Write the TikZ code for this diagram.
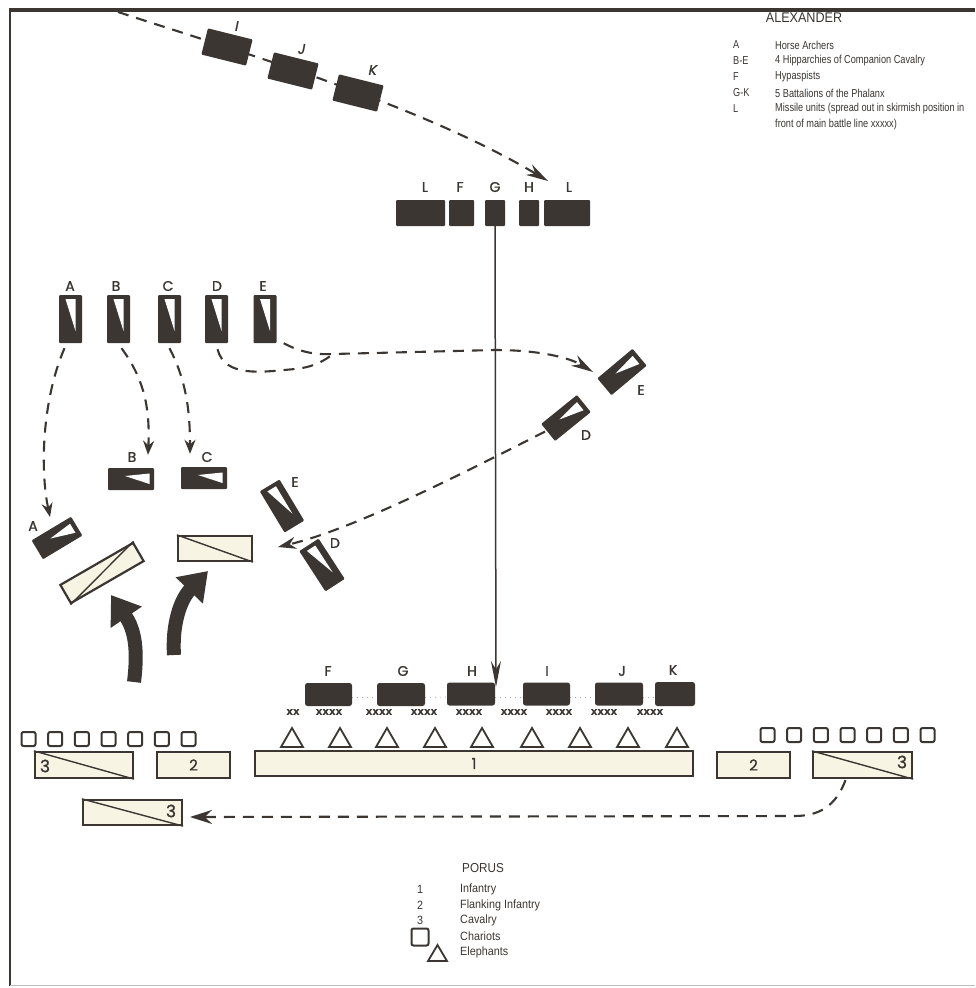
\documentclass[tikz,border=0pt]{standalone}
\usepackage{fontspec}
\setmainfont{Liberation Sans}
\newfontfamily\legfont[FakeStretch=0.8]{Liberation Sans}
\newfontfamily\legfonth[FakeStretch=0.9]{Liberation Sans}
\newfontfamily\legfontb[FakeStretch=0.9]{Liberation Sans}
\newfontfamily\geo[FakeBold=1.2]{Poppins}
\newfontfamily\geosl[FakeSlant=0.2,FakeBold=1.2]{Poppins}
\newfontfamily\monob[FakeBold=1]{Liberation Mono}
\usetikzlibrary{arrows.meta,calc}
\definecolor{dkc}{HTML}{3B3632}
\definecolor{ltc}{HTML}{F8F4E4}
\tikzset{
 blk/.style={rectangle, fill=dkc, inner sep=0pt, rounded corners=1pt},
 cvv/.style={blk, minimum width=23pt, minimum height=48pt},
 cvh/.style={blk, minimum width=46pt, minimum height=22pt},
 lr/.style={rectangle, draw=dkc, line width=2.2pt, fill=ltc, inner sep=0pt},
 lab/.style={font=\geo\fontsize{14}{14}\selectfont, text=dkc, inner sep=0pt},
 labsl/.style={font=\geosl\fontsize{14}{14}\selectfont, text=dkc, inner sep=0pt},
 lg/.style={font=\legfont\fontsize{11.5}{13}\selectfont, text=dkc, inner sep=0pt, anchor=west},
 lgp/.style={font=\legfontb\fontsize{12}{14}\selectfont, text=dkc, inner sep=0pt, anchor=west},
 dsh/.style={draw=dkc, line width=2.1pt, dash pattern=on 11pt off 8pt},
 xm/.style={font=\monob\bfseries\fontsize{11}{11}\selectfont, text=dkc, inner sep=0pt},
 ch/.style={rectangle, draw=dkc, line width=2pt, rounded corners=2pt, minimum width=14pt, minimum height=14pt, inner sep=0pt, fill=white},
 num/.style={font=\geo\fontsize{15}{15}\selectfont, text=dkc, inner sep=0pt},
 num3/.style={font=\geo\fontsize{17}{17}\selectfont, text=dkc, inner sep=0pt},
 thick arrow/.style={draw=dkc, line width=14pt, -{Triangle[length=27pt,width=36pt]}},
}
\newcommand\cavv[4]{%
  \node[cvv, rotate=#4] (#1) at (#2,#3) {};
  \begin{scope}[shift={(#2,#3)}, rotate=#4]
    \fill[white] (-5,-20) -- (5,-20) -- (5,12) -- cycle;
  \end{scope}}
\newcommand\cavh[4]{%
  \node[cvh, rotate=#4] (#1) at (#2,#3) {};
  \begin{scope}[shift={(#2,#3)}, rotate=#4]
    \fill[white] (-6,-3) -- (18.5,-5.5) -- (18.5,5) -- cycle;
  \end{scope}}
\begin{document}
\begin{tikzpicture}[x=1pt,y=-1pt]
\useasboundingbox (0,0) rectangle (975,988);
\fill[white] (0,0) rectangle (975,988);
% frame
\draw[dkc, line width=2.2pt] (10,986) -- (10,10);
\draw[dkc, line width=3.2pt] (9,10) -- (975,10);
\draw[black!25, line width=1pt] (10,985) -- (975,985);

% ---------- legend Alexander
\node[font=\legfonth\fontsize{14}{16}\selectfont, text=dkc] (alex) at (804,18) {ALEXANDER};
\node[lg] (kA) at (733,45) {A};   \node[lg] (dA) at (775,45) {Horse Archers};
\node[lg] (kB) at (733,61) {B-E}; \node[lg] (dB) at (775,61) {4 Hipparchies of Companion Cavalry};
\node[lg] (kF) at (733,77) {F};   \node[lg] (dF) at (775,77) {Hypaspists};
\node[lg] (kG) at (733,93) {G-K}; \node[lg] (dG) at (775,93) {5 Battalions of the Phalanx};
\node[lg] (kL) at (733,109) {L};  \node[lg] (dL) at (775,109) {Missile units (spread out in skirmish position in};
\node[lg] (dL2) at (775,125) {front of main battle line xxxxx)};

% ---------- approach column I J K
\coordinate (tstart) at (118,12);
\coordinate (ttip) at (548,181);
\draw[dsh, -{Stealth[length=22pt,width=12pt]}] (tstart) .. controls (250,55) and (420,105) .. (ttip);
\node[blk, minimum width=46pt, minimum height=27pt, rotate=-14] (cI) at (227,47) {};
\node[blk, minimum width=46pt, minimum height=27pt, rotate=-14] (cJ) at (293,71) {};
\node[blk, minimum width=46pt, minimum height=27pt, rotate=-14] (cK) at (358,93) {};
\node[labsl] (lI) at (236,26) {I};
\node[labsl] (lJ) at (301,49) {J};
\node[labsl] (lK) at (372,70) {K};

% ---------- first line L F G H L
\node[blk, minimum width=49pt, minimum height=26pt] (tL1) at (420.5,213) {};
\node[blk, minimum width=25pt, minimum height=26pt] (tF) at (461.5,213) {};
\node[blk, minimum width=20pt, minimum height=26pt] (tG) at (495,213) {};
\node[blk, minimum width=20pt, minimum height=26pt] (tH) at (529,213) {};
\node[blk, minimum width=46pt, minimum height=26pt] (tL2) at (567,213) {};
\node[lab] at (425,187) {L};
\node[lab] at (460,187) {F};
\node[lab] at (495,187) {G};
\node[lab] at (529,187) {H};
\node[lab] at (569,187) {L};
\coordinate (vtip) at (496,687);
\draw[dkc, line width=1.5pt, -{Stealth[length=26pt,width=10pt]}] (tG.south) -- (vtip);

% ---------- cavalry A-E
\cavv{A}{70.5}{319}{0}
\cavv{B}{118.5}{319}{0}
\cavv{C}{169.5}{319}{0}
\cavv{D}{216.5}{319}{0}
\cavv{E}{265}{319}{0}
\node[lab] at (70,286) {A};
\node[lab] at (116,286) {B};
\node[lab] at (168,286) {C};
\node[lab] at (217,286) {D};
\node[lab] at (263,286) {E};

% second positions
\cavh{B2}{131}{479}{0}
\cavh{C2}{204}{478}{0}
\cavh{A2}{57}{538}{31}
\cavh{E3}{622}{372}{40}
\cavh{D3}{566}{418}{39}
\cavv{E2}{282}{506}{31}
\cavv{D2}{322}{565}{33}
\node[lab] at (132,457) {B};
\node[lab] at (207,457) {C};
\node[lab] at (33,526) {A};
\node[lab] at (295,482) {E};
\node[lab] at (335,543) {D};
\node[lab] at (641,390) {E};
\node[lab] at (586,435) {D};

% dashed moves
\draw[dsh, -{Stealth[length=14pt,width=11pt]}] ($(A.south)+(-6,5)$) .. controls (42,400) and (40,470) .. ($(A2.center)+(-7,-21)$);
\draw[dsh, -{Stealth[length=14pt,width=11pt]}] ($(B.south)+(3,5)$) .. controls (145,380) and (150,410) .. ($(B2.north)+(17,-13)$);
\draw[dsh, -{Stealth[length=14pt,width=11pt]}] ($(C.south)+(0,5)$) .. controls (186,380) and (190,410) .. ($(C2.north)+(-14,-13)$);
\coordinate (jn) at (333,354);
\coordinate (etip) at (593,372);
\draw[dsh] ($(D.south)+(1,6)$) .. controls (225,378) and (262,372) .. (295,369) .. controls (315,367) and (325,360) .. (jn);
\draw[dsh, -{Stealth[length=22pt,width=12pt]}] ($(E.south east)+(7,0)$) .. controls (300,352) and (315,355) .. (jn) -- (495,350) .. controls (540,350) and (570,358) .. (etip);
\coordinate (ltip) at (278,547);
\draw[dsh, -{Stealth[length=18pt,width=12pt]}] ($(D3.west)+(-3,-1)$) .. controls (450,480) and (350,530) .. (ltip);

% turned Porus units
\node[lr, minimum width=84pt, minimum height=21pt, rotate=30] (P1) at (102,573) {};
\draw[dkc, line width=1.4pt] (P1.south west) -- (P1.north east);
\node[lr, minimum width=74pt, minimum height=25pt] (P2) at (215,548.5) {};
\draw[dkc, line width=1.4pt] (P2.north west) -- (P2.south east);

% thick arrows
\coordinate (ta1) at (134,682); \coordinate (th1) at (111,595);
\coordinate (ta2) at (174,655); \coordinate (th2) at (208,571);
\draw[thick arrow] (ta1) .. controls (138,650) and (135,630) .. (th1);
\draw[thick arrow] (ta2) .. controls (172,625) and (180,600) .. (th2);

% ---------- Alexander final line F..K
\node[blk, rounded corners=2.5pt, minimum width=47pt, minimum height=23pt] (fF) at (328.5,694.5) {};
\node[blk, rounded corners=2.5pt, minimum width=48pt, minimum height=23pt] (fG) at (401,694.5) {};
\node[blk, rounded corners=2.5pt, minimum width=48pt, minimum height=23pt] (fH) at (471,694) {};
\node[blk, rounded corners=2.5pt, minimum width=47pt, minimum height=23pt] (fI) at (546.5,694) {};
\node[blk, rounded corners=2.5pt, minimum width=48pt, minimum height=23pt] (fJ) at (619,694) {};
\node[blk, rounded corners=2.5pt, minimum width=40pt, minimum height=24pt] (fK) at (675,694) {};
\foreach \a/\b in {F/G,G/H,H/I,I/J,J/K}
  \draw[black!35, line width=0.6pt, dash pattern=on 1pt off 4pt] ($(f\a.east)+(0,3)$) -- ($(f\b.west)+(0,3)$);
\node[lab] at (328,671) {F};
\node[lab] at (403,671) {G};
\node[lab] at (472,671) {H};
\node[lab] at (547,671) {I};
\node[lab] at (622,671) {J};
\node[lab] at (673,670) {K};
\node[xm] at (293,712) {xx};
\foreach \x in {329,379,424,469,514,559,604,650}
  \node[xm] at (\x,712) {xxxx};

% ---------- Porus
\foreach \x in {292,340,387,435,482,532,580,628,677}
  \draw[dkc, line width=1.8pt, line join=miter] (\x-11,747) -- (\x,728) -- (\x+11,747) -- cycle;
\node[lr, minimum width=438pt, minimum height=25pt] (inf1) at (474,763.5) {};
\node[num] at (inf1) {1};
\foreach \i in {0,...,6} \node[ch] (chl\i) at ({28.5+26.67*\i},739) {};
\foreach \i in {0,...,6} \node[ch] (chr\i) at ({767.5+26.67*\i},735) {};
\node[lr, minimum width=98pt, minimum height=26pt] (c3L) at (84,765) {};
\draw[dkc, line width=1.4pt] (c3L.north west) -- (c3L.south east);
\node[num3] at (45,766) {3};
\node[lr, minimum width=73pt, minimum height=26pt] (i2L) at (193.5,765) {};
\node[num] at (i2L) {2};
\node[lr, minimum width=73pt, minimum height=26pt] (i2R) at (753.5,765) {};
\node[num] at (i2R) {2};
\node[lr, minimum width=99pt, minimum height=26pt] (c3R) at (862.5,765) {};
\draw[dkc, line width=1.4pt] (c3R.north west) -- (c3R.south east);
\node[num3] at (902,762) {3};
\node[lr, minimum width=99pt, minimum height=25pt] (c3B) at (132.5,812.5) {};
\draw[dkc, line width=1.4pt] (c3B.north west) -- (c3B.south east);
\node[num3] at (171,811) {3};
\coordinate (btip) at (190,817);
\draw[dsh, -{Stealth[length=22pt,width=14pt]}] ($(c3R.south)+(-17,1)$) .. controls (838,800) and (825,816) .. (795,816) -- (btip);

% ---------- legend Porus
\node[font=\legfontb\fontsize{13}{15}\selectfont, text=dkc] (porus) at (483,868) {PORUS};
\node[font=\legfontb\fontsize{12}{14}\selectfont, text=dkc, inner sep=0pt] (k1) at (420,889) {1};
\node[font=\legfontb\fontsize{12}{14}\selectfont, text=dkc, inner sep=0pt] (k2) at (420,905) {2};
\node[font=\legfontb\fontsize{12}{14}\selectfont, text=dkc, inner sep=0pt] (k3) at (420,920) {3};
\node[lgp] (d1) at (460,889) {Infantry};
\node[lgp] (d2) at (460,905) {Flanking Infantry};
\node[lgp] (d3) at (460,920) {Cavalry};
\node[lgp] (d4) at (460,936) {Chariots};
\node[lgp] (d5) at (460,952) {Elephants};
\node[ch, minimum width=17pt, minimum height=17pt] (kch) at (420,937) {};
\draw[dkc, line width=1.8pt, line join=miter] (428,961) -- (437.5,945) -- (447,961) -- cycle;
\end{tikzpicture}
\end{document}
